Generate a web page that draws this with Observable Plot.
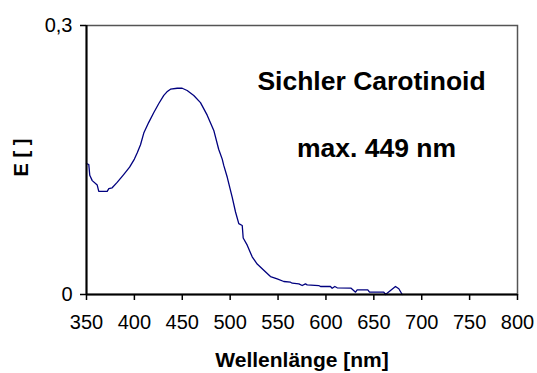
<!DOCTYPE html>
<html>
<head>
<meta charset="utf-8">
<script src="https://cdn.jsdelivr.net/npm/d3@7"></script>
<script src="https://cdn.jsdelivr.net/npm/@observablehq/plot@0.6"></script>
<style>
  html, body { margin: 0; padding: 0; background: #fff; }
  #chart svg { display: block; }
</style>
</head>
<body>
<div id="chart"></div>
<script>
const wavelength = [350, 352.4, 353.4, 356, 361.2, 362.8, 371.6, 373.3, 376.8, 382, 389, 395, 400, 403, 406.4, 409.8, 415, 420.3, 425.5, 430.7, 434, 437.7, 444.7, 449.9, 455.1, 462, 469, 476, 482.9, 488, 491.7, 493.3, 496.9, 502.1, 505.6, 509, 512.6, 513.6, 517.8, 523, 528.2, 535.1, 542.1, 549.1, 556, 563, 564.8, 571.7, 575.2, 578.6, 580.4, 592.5, 594.3, 604.7, 606.5, 609.3, 611.7, 626.3, 630.9, 632.6, 643.7, 645.5, 660.4, 662.2, 667.4, 672.6, 676.1, 679.6];
const absorbance = [0.146, 0.145, 0.133, 0.127, 0.122, 0.115, 0.115, 0.118, 0.119, 0.125, 0.134, 0.142, 0.151, 0.158, 0.167, 0.180, 0.192, 0.203, 0.213, 0.222, 0.226, 0.229, 0.230, 0.230, 0.2275, 0.222, 0.214, 0.200, 0.183, 0.162, 0.151, 0.144, 0.131, 0.1085, 0.092, 0.079, 0.077, 0.063, 0.055, 0.042, 0.034, 0.027, 0.020, 0.0175, 0.0145, 0.0137, 0.0126, 0.0119, 0.010, 0.0119, 0.0108, 0.010, 0.0089, 0.0089, 0.007, 0.0089, 0.0075, 0.007, 0.0026, 0.0052, 0.0052, 0.0026, 0.0026, 0, 0.0045, 0.0089, 0.0064, 0];

const xTicks = [350, 400, 450, 500, 550, 600, 650, 700, 750, 800];
const yTicks = [0, 0.3];
const yTickLabels = ["0", "0,3"];
const xTitle = "Wellenlänge [nm]";
const yTitle = "E [ ]";
const annotations = ["Sichler Carotinoid", "max. 449 nm"];

const data = wavelength.map((w, i) => ({w, e: absorbance[i]}));

const plot = Plot.plot({
  width: 537,
  height: 373,
  marginLeft: 86,
  marginRight: 20,
  marginTop: 25,
  marginBottom: 79,
  style: {fontFamily: "'Liberation Sans', Arial, sans-serif", fontSize: "20px", color: "#000", background: "#fff"},
  x: {domain: [xTicks[0], xTicks[xTicks.length - 1]]},
  y: {domain: [yTicks[0], yTicks[yTicks.length - 1]]},
  marks: [
    Plot.frame({stroke: "#555", strokeWidth: 1.5}),
    Plot.line(data, {x: "w", y: "e", stroke: "#00007f", strokeWidth: 1.3}),
    Plot.ruleX([xTicks[0]], {stroke: "#000", strokeWidth: 2}),
    Plot.ruleY([yTicks[0]], {stroke: "#000", strokeWidth: 2}),
    Plot.axisX({ticks: xTicks, tickSize: 6, tickPadding: 14, tickFormat: d => String(d), label: null, fontSize: 20, stroke: "#000", strokeWidth: 1.5}),
    Plot.axisY({ticks: yTicks, tickSize: 6, tickPadding: 8, tickFormat: (d, i) => yTickLabels[i], label: null, fontSize: 20, stroke: "#000", strokeWidth: 1.5}),
    Plot.text([annotations[0]], {frameAnchor: "top-left", dx: 285, dy: 64, textAnchor: "middle", lineAnchor: "bottom", fontSize: 26.5, fontWeight: "bold"}),
    Plot.text([annotations[1]], {frameAnchor: "top-left", dx: 290, dy: 131, textAnchor: "middle", lineAnchor: "bottom", fontSize: 26.5, fontWeight: "bold"}),
    Plot.text([xTitle], {frameAnchor: "bottom", dy: 72, textAnchor: "middle", lineAnchor: "bottom", fontSize: 21, fontWeight: "bold"}),
    Plot.text([yTitle], {frameAnchor: "left", dx: -59, dy: -2.5, rotate: -90, textAnchor: "middle", lineAnchor: "bottom", fontSize: 20, fontWeight: "bold"})
  ]
});
document.getElementById("chart").appendChild(plot);
</script>
</body>
</html>
